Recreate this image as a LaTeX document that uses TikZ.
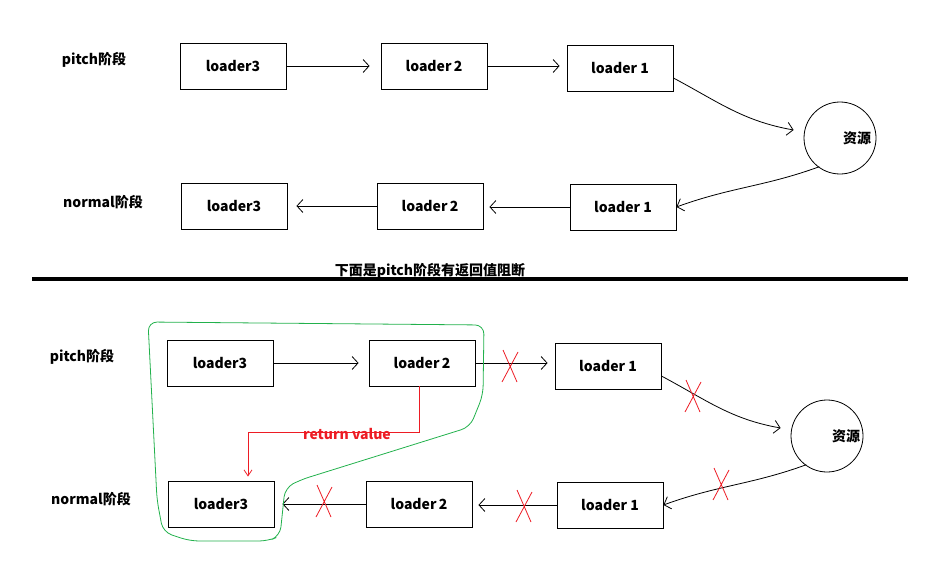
\documentclass[tikz,border=0pt]{standalone}
\usepackage{fontspec}
\setmainfont{Noto Sans CJK SC}
\usetikzlibrary{arrows.meta,calc}
\definecolor{paintred}{RGB}{237,28,36}
\definecolor{paintgreen}{RGB}{34,177,76}
\tikzset{
  ldr/.style={draw,line width=.8pt,minimum width=106,minimum height=46,inner sep=0pt,
    font=\bfseries\fontsize{14}{16}\selectfont},
  stage/.style={font=\bfseries\fontsize{14}{16}\selectfont},
  src/.style={draw,circle,line width=.8pt,minimum size=72},
  flow/.style={line width=.8pt,-{Straight Barb[length=6pt,width=13pt]}},
  nox/.pic={\draw[paintred,line width=.8pt] (-7,-16) -- (7,16) (8,-14) -- (-8,16);}
}
\begin{document}
\begin{tikzpicture}[x=1pt,y=-1pt]
\useasboundingbox (0,0) rectangle (936,567);
% fase pitch / normal
\node[stage] (tp) at (94,60) {pitch阶段};
\node[stage] (tn) at (103,202) {normal阶段};
\node[ldr] (a3) at (233,66) {loader3};
\node[ldr] (a2) at (434,66) {loader\,2};
\node[ldr] (a1) at (620,68) {loader 1};
\node[src,label={[stage,xshift=17]center:资源}] (ra) at (840,138) {};
\node[ldr] (b3) at (234,206) {loader3};
\node[ldr] (b2) at (430,206) {loader\,2};
\node[ldr] (b1) at (623,207) {loader 1};
\draw[flow,shorten >=11] (a3.east) -- (a3.east-|a2.west);
\draw[flow,shorten >=7] (a2.east) -- (a2.east-|a1.west);
\draw[flow] (a1.east) ++(0,10) to[out=-28,in=170] ($(ra.west)+(-10,-8)$);
\draw[flow] (ra.south west) ++(5,3) to[out=200,in=20] (b1.east);
\draw[flow,shorten >=6] (b1.west) -- (b1.west-|b2.east);
\draw[flow,shorten >=9] (b2.west) -- (b2.west-|b3.east);
% separador
\draw[line width=4pt] (32,279) -- (908,279);
\node[stage,anchor=south,inner sep=0pt] (sep) at (430,279) {下面是pitch阶段有返回值阻断};
% con retorno
\node[stage] (cp) at (82,357) {pitch阶段};
\node[stage] (cn) at (91,499) {normal阶段};
\node[ldr] (c3) at (220,363) {loader3};
\node[ldr] (c2) at (422,363) {loader\,2};
\node[ldr] (c1) at (608,366) {loader 1};
\node[src,label={[stage,xshift=19]center:资源}] (rb) at (827,436) {};
\node[ldr] (d3) at (221,504) {loader3};
\node[ldr] (d2) at (419,504) {loader\,2};
\node[ldr] (d1) at (610,505) {loader 1};
\draw[flow,shorten >=10] (c3.east) -- (c3.east-|c2.west);
\draw[flow,shorten >=7] (c2.east) -- (c2.east-|c1.west);
\draw[flow] (c1.east) ++(0,10) to[out=-28,in=170] ($(rb.west)+(-10,-8)$);
\draw[flow] (rb.south west) ++(5,3) to[out=200,in=20] (d1.east);
\draw[flow,shorten >=6] (d1.west) -- (d1.west-|d2.east);
\draw[flow,shorten >=8] (d2.west) -- (d2.west-|d3.east);
\draw[paintred,line width=.8pt,-{Straight Barb[length=6pt,width=8pt]}]
  ($(c2.south)+(-3,0)$) -- ++(0,46) -| ($(d3.north)+(27,-4)$);
\node[stage,text=paintred] (rv) at (347,434) {return value};
\pic at (510,366) {nox};
\pic at (693,396) {nox};
\pic at (721,484) {nox};
\pic at (524,506) {nox};
\pic at (324,501) {nox};
% zona devuelta
\draw[paintgreen,line width=.8pt,rounded corners=9] (148,322) -- (484,325) -- (483,395)
  -- (470,427) -- (300,480) -- (285,488) -- (280,536) -- (268,541) -- (190,541)
  -- (163,532) -- (157,500) -- cycle;
\end{tikzpicture}
\end{document}
